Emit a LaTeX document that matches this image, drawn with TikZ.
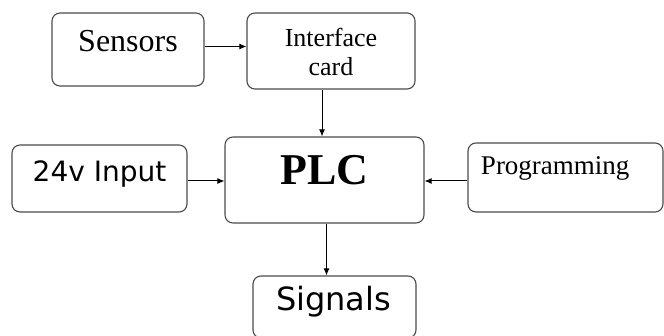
\documentclass[tikz,border=0pt]{standalone}
\usepackage{fontspec}
\setmainfont{Liberation Serif}
\newfontfamily\sansdejavu{DejaVu Sans}
\usetikzlibrary{arrows.meta, positioning, calc}

\begin{document}
\begin{tikzpicture}[ x=1pt, y=1pt, block/.style={draw=black!70, line
      width=1.1pt, rounded corners=8pt, fill=white}, link/.style={line
      width=1pt, black, -{Latex[length=7pt,width=6pt]}},
      serifbig/.style={font=\fontsize{32pt}{36pt}\selectfont},
      serifmid/.style={font=\fontsize{26pt}{29pt}\selectfont, align=center},
      plclabel/.style={font=\fontsize{44pt}{48pt}\selectfont\bfseries},
      sanslabel/.style={font=\sansdejavu\fontsize{#1}{#1}\selectfont} ]
    % Frame
    \clip (0,0) rectangle (664,335);
    \fill[white] (0,0) rectangle (664,335);

    % Blocks
    \node[block, minimum width=152pt, minimum height=73pt] (sensors) at
    (128,285.5) {}; \node[block, minimum width=168pt, minimum height=76pt]
    (iface) at (331,284) {}; \node[block, minimum width=175pt, minimum
    height=67pt] (input) at (99.5,156.5) {}; \node[block, minimum width=199pt,
    minimum height=86pt] (plc) at (324.5,155) {}; \node[block, minimum
    width=195pt, minimum height=69pt] (prog) at (565.5,157.5) {};
    \node[block, minimum width=163pt, minimum height=62pt] (signals) at
    (334.5,28) {};

    % Labels inside blocks
    \node[serifbig, anchor=base] (sensorstext) at ([yshift=-2.5pt]sensors.center)
    {Sensors}; \node[serifmid] (ifacetext) at ([yshift=-1pt]iface.center)
    {Interface\\card}; \node[sanslabel=28pt, anchor=base] (inputtext) at
    ([yshift=-3.5pt]input.center) {24v Input}; \node[plclabel, anchor=base]
    (plctext) at ([yshift=-5pt]plc.center) {PLC}; \node[font=\fontsize{27pt}{30pt}\selectfont,
    anchor=base west] (progtext) at ([xshift=10pt,yshift=2.5pt]prog.west)
    {Programming}; \node[sanslabel=32pt, anchor=base] (signalstext) at
    ([xshift=-1pt,yshift=-3pt]signals.center) {Signals};

    % Arrows into and out of the PLC
    \draw[link] ([yshift=3pt]sensors.east) -- ([yshift=3pt]sensors.east -|
    iface.west); \draw[link] ([xshift=-9pt]iface.south) --
    ([xshift=-9pt]iface.south |- plc.north); \draw[link] ([yshift=-1pt]plc.west -|
    input.east) -- ([yshift=-1pt]plc.west); \draw[link] ([yshift=-1pt]plc.east -| prog.west) --
    ([yshift=-1pt]plc.east); \draw[link] ([xshift=2pt]plc.south) -- ([xshift=2pt]plc.south
    |- signals.north);

\end{tikzpicture}
\end{document}
